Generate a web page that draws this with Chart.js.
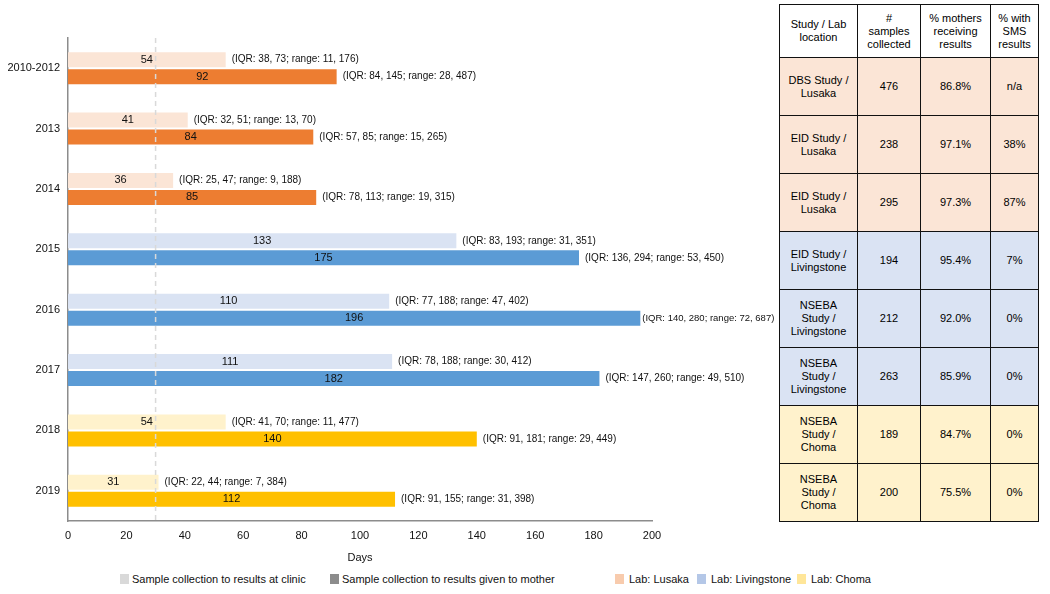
<!DOCTYPE html>
<html lang="en">
<head>
  <meta charset="UTF-8">
  <title>Turnaround time by year</title>
  <script src="https://cdn.jsdelivr.net/npm/chart.js"></script>
  <style>
    body {
      margin: 0;
      width: 1050px;
      height: 594px;
      position: relative;
      background: #fff;
      font-family: "Liberation Sans", Arial, sans-serif;
      overflow: hidden;
    }

    #wrap {
      position: absolute;
      left: 0;
      top: 0;
      width: 790px;
      height: 565px;
    }

    #tabela {
      position: absolute;
      left: 779px;
      top: 4px;
      width: 259px;
      height: 518px;
      border-collapse: collapse;
      table-layout: fixed;
      font-size: 11px;
      color: #000;
    }

    #tabela td, #tabela th {
      border: 1.5px solid #111;
      text-align: center;
      vertical-align: middle;
      font-weight: normal;
      padding: 0 2px;
      line-height: 13px;
    }

    .legenda {
      position: absolute;
      top: 573px;
      font-size: 11px;
      color: #111;
      display: flex;
      align-items: center;
      white-space: nowrap;
    }

    .legenda span.caixa {
      display: inline-block;
      width: 9px;
      height: 10px;
      margin-right: 3px;
    }
  </style>
</head>
<body>
  <div id="wrap"><canvas id="grafico"></canvas></div>

  <table id="tabela">
    <colgroup>
      <col style="width:78px"><col style="width:63px"><col style="width:70px"><col style="width:48px">
    </colgroup>
    <tbody id="corpo"></tbody>
  </table>

  <div id="legendas"></div>

  <script>
    // categorias e valores (dias, mediana)
    const anos = ['2010-2012', '2013', '2014', '2015', '2016', '2017', '2018', '2019'];
    const clinica = [54, 41, 36, 133, 110, 111, 54, 31];
    const mae = [92, 84, 85, 175, 196, 182, 140, 112];
    const iqrClinica = [
      '(IQR: 38, 73; range: 11, 176)',
      '(IQR: 32, 51; range: 13, 70)',
      '(IQR: 25, 47; range: 9, 188)',
      '(IQR: 83, 193; range: 31, 351)',
      '(IQR: 77, 188; range: 47, 402)',
      '(IQR: 78, 188; range: 30, 412)',
      '(IQR: 41, 70; range: 11, 477)',
      '(IQR: 22, 44; range: 7, 384)'
    ];
    const iqrMae = [
      '(IQR: 84, 145; range: 28, 487)',
      '(IQR: 57, 85; range: 15, 265)',
      '(IQR: 78, 113; range: 19, 315)',
      '(IQR: 136, 294; range: 53, 450)',
      '(IQR: 140, 280; range: 72, 687)',
      '(IQR: 147, 260; range: 49, 510)',
      '(IQR: 91, 181; range: 29, 449)',
      '(IQR: 91, 155; range: 31, 398)'
    ];
    const labs = ['Lusaka', 'Lusaka', 'Lusaka', 'Livingstone', 'Livingstone', 'Livingstone', 'Choma', 'Choma'];
    const linhaRef = 30;
    const ticksX = [0, 20, 40, 60, 80, 100, 120, 140, 160, 180, 200];

    // tabela
    const estudos = ['DBS Study /<br>Lusaka', 'EID Study /<br>Lusaka', 'EID Study /<br>Lusaka', 'EID Study /<br>Livingstone',
      'NSEBA<br>Study /<br>Livingstone', 'NSEBA<br>Study /<br>Livingstone', 'NSEBA<br>Study /<br>Choma', 'NSEBA<br>Study /<br>Choma'];
    const amostras = [476, 238, 295, 194, 212, 263, 189, 200];
    const pctMaes = ['86.8%', '97.1%', '97.3%', '95.4%', '92.0%', '85.9%', '84.7%', '75.5%'];
    const pctSms = ['n/a', '38%', '87%', '7%', '0%', '0%', '0%', '0%'];

    const cores = {
      Lusaka: { escuro: '#ED7D31', claro: '#FBE5D6', fundo: '#FBE5D6', legenda: '#F8CBAD' },
      Livingstone: { escuro: '#5B9BD5', claro: '#DAE3F3', fundo: '#DAE3F3', legenda: '#B4C7E7' },
      Choma: { escuro: '#FFC000', claro: '#FFF2CC', fundo: '#FFF2CC', legenda: '#FFE699' }
    };

    const FONTE = '"Liberation Sans", Arial, sans-serif';
    const LIMITE_TEXTO = 777; // a tabela começa logo depois

    const textosPlugin = {
      id: 'textos',
      afterDatasetsDraw(chart) {
        const { ctx, chartArea, scales } = chart;
        const xs = scales.x;
        // linha tracejada em 30 dias
        const px = xs.getPixelForValue(linhaRef);
        ctx.save();
        ctx.strokeStyle = '#d9d9d9';
        ctx.lineWidth = 1.5;
        ctx.setLineDash([5, 4]);
        ctx.beginPath();
        ctx.moveTo(px, chartArea.top);
        ctx.lineTo(px, chartArea.bottom);
        ctx.stroke();
        ctx.setLineDash([]);

        ctx.fillStyle = '#111';
        ctx.textBaseline = 'middle';
        const notas = [iqrClinica, iqrMae];
        chart.data.datasets.forEach((ds, i) => {
          const meta = chart.getDatasetMeta(i);
          meta.data.forEach((bar, j) => {
            const v = ds.data[j];
            ctx.textAlign = 'center';
            ctx.font = '11px ' + FONTE;
            ctx.fillText(String(v), xs.getPixelForValue(v / 2), bar.y);

            // nota à direita da barra; encolhe se não couber antes da tabela
            ctx.textAlign = 'left';
            let tam = 10;
            ctx.font = tam + 'px ' + FONTE;
            let largura = ctx.measureText(notas[i][j]).width;
            let x = Math.max(bar.x + 2, Math.min(bar.x + 6, LIMITE_TEXTO - largura));
            while (x + largura > LIMITE_TEXTO && tam > 8) {
              tam -= 0.25;
              ctx.font = tam + 'px ' + FONTE;
              largura = ctx.measureText(notas[i][j]).width;
            }
            ctx.fillText(notas[i][j], x, bar.y);
          });
        });
        ctx.restore();
      }
    };

    const ctx = document.getElementById('grafico').getContext('2d');

    const grafico = new Chart(ctx, {
      type: 'bar',
      data: {
        labels: anos,
        datasets: [
          {
            label: 'Sample collection to results at clinic',
            data: clinica,
            backgroundColor: labs.map(l => cores[l].claro),
            borderWidth: 0
          },
          {
            label: 'Sample collection to results given to mother',
            data: mae,
            backgroundColor: labs.map(l => cores[l].escuro),
            borderWidth: 0
          }
        ]
      },
      options: {
        indexAxis: 'y',
        responsive: true,
        maintainAspectRatio: false,
        animation: false,
        categoryPercentage: 0.565,
        barPercentage: 0.88,
        layout: { padding: { top: 38, right: 138, left: 0, bottom: 0 } },
        scales: {
          x: {
            min: 0,
            max: 200,
            afterBuildTicks(scale) {
              scale.ticks = ticksX.map(v => ({ value: v }));
            },
            grid: { display: false, drawTicks: false },
            border: { display: true, color: '#8c8c8c', width: 1.5 },
            ticks: { color: '#111', font: { family: FONTE, size: 11 }, padding: 8 },
            title: {
              display: true,
              text: 'Days',
              color: '#111',
              font: { family: FONTE, size: 11 },
              padding: { top: 3, bottom: 0 }
            },
            afterFit(scale) { scale.height = 44; }
          },
          y: {
            grid: { display: false, drawTicks: false },
            border: { display: true, color: '#8c8c8c', width: 1.5 },
            ticks: { color: '#111', font: { family: FONTE, size: 11 }, padding: 8 },
            afterFit(scale) { scale.width = 68; }
          }
        },
        plugins: {
          legend: { display: false },
          tooltip: { enabled: false }
        }
      },
      plugins: [textosPlugin]
    });

    // linhas da tabela
    const corpo = document.getElementById('corpo');
    let html = '<tr style="height:53px;background:#fff"><td>Study / Lab<br>location</td><td>#<br>samples<br>collected</td>' +
      '<td>% mothers<br>receiving<br>results</td><td>% with<br>SMS<br>results</td></tr>';
    estudos.forEach((e, i) => {
      html += `<tr style="height:58px;background:${cores[labs[i]].fundo}"><td>${e}</td><td>${amostras[i]}</td>` +
        `<td>${pctMaes[i]}</td><td>${pctSms[i]}</td></tr>`;
    });
    corpo.innerHTML = html;

    // legenda inferior
    const itensLegenda = [
      { x: 120, cor: '#d9d9d9', texto: 'Sample collection to results at clinic' },
      { x: 330, cor: '#8c8c8c', texto: 'Sample collection to results given to mother' },
      { x: 615, cor: cores.Lusaka.legenda, texto: 'Lab: Lusaka' },
      { x: 697, cor: cores.Livingstone.legenda, texto: 'Lab: Livingstone' },
      { x: 797, cor: cores.Choma.legenda, texto: 'Lab: Choma' }
    ];
    document.getElementById('legendas').innerHTML = itensLegenda.map(it =>
      `<div class="legenda" style="left:${it.x}px"><span class="caixa" style="background:${it.cor}"></span>` +
      `<span style="margin-left:${it.x < 600 ? 0 : 2}px">${it.texto}</span></div>`
    ).join('');
  </script>
</body>
</html>
